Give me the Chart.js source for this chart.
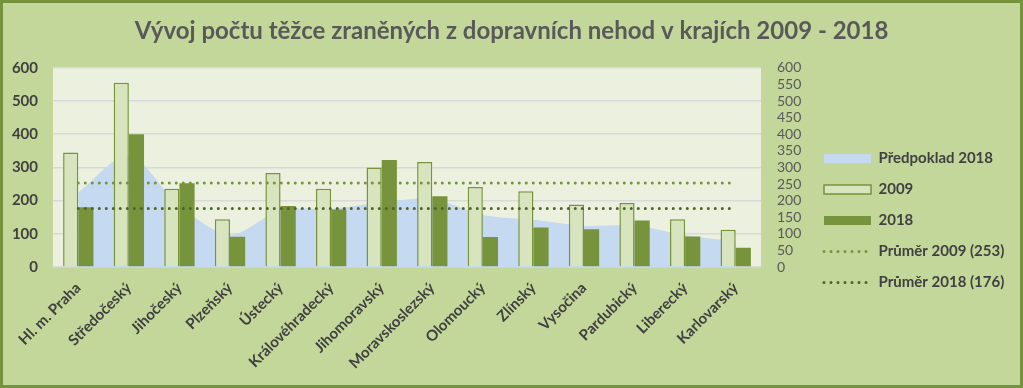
<!DOCTYPE html>
<html>
<head>
<meta charset="utf-8">
<script src="https://cdn.jsdelivr.net/npm/chart.js@4/dist/chart.umd.min.js"></script>
<style>
  html, body { margin: 0; padding: 0; background: #C4D79B; }
  #wrap { width: 1023px; height: 388px; position: relative; }
</style>
</head>
<body>
<div id="wrap"><canvas id="myChart" width="1023" height="388"></canvas></div>
<script>
// data
const kraje = ["Hl. m. Praha", "Středočeský", "Jihočeský", "Plzeňský", "Ústecký", "Královéhradecký",
  "Jihomoravský", "Moravskoslezský", "Olomoucký", "Zlínský", "Vysočina", "Pardubický", "Liberecký", "Karlovarský"];
const predpoklad2018 = [225, 335, 185, 97, 172, 175, 195, 205, 157, 142, 124, 125, 96, 78];
const hodnoty2009 = [345, 555, 236, 144, 283, 236, 300, 316, 241, 228, 188, 193, 144, 112];
const hodnoty2018 = [180, 400, 252, 91, 184, 173, 322, 213, 90, 119, 114, 140, 92, 58];
const prumer2009 = [253, 253, 253, 253, 253, 253, 253, 253, 253, 253, 253, 253, 253, 253];
const prumer2018 = [176, 176, 176, 176, 176, 176, 176, 176, 176, 176, 176, 176, 176, 176];
const leveTicky = [0, 100, 200, 300, 400, 500, 600];
const praveTicky = [0, 50, 100, 150, 200, 250, 300, 350, 400, 450, 500, 550, 600];

const FONT = "Lato, 'Open Sans', sans-serif";

// pozadi grafu + ramecek
const pozadi = {
  id: 'pozadi',
  beforeDraw(chart) {
    const { ctx, width, height, chartArea } = chart;
    ctx.save();
    ctx.fillStyle = '#C4D79B';
    ctx.fillRect(0, 0, width, height);
    ctx.fillStyle = '#EBF1DE';
    ctx.fillRect(chartArea.left, chartArea.top, chartArea.right - chartArea.left, chartArea.bottom - chartArea.top);
    ctx.strokeStyle = '#76923C';
    ctx.lineWidth = 3;
    ctx.strokeRect(1.5, 1.5, width - 3, height - 3);
    ctx.restore();
  }
};

// legenda je sirsi nez dovoli layout (max sirka / 3 svisle boxy)
const sirkaLegendy = {
  id: 'sirkaLegendy',
  beforeUpdate(chart) {
    const lg = chart.legend;
    if (lg && !lg._upraveno) {
      const puvodniFit = lg.fit.bind(lg);
      lg.fit = function () { puvodniFit(); this.width = 205; };
      lg._upraveno = true;
    }
  }
};

var ctx = document.getElementById("myChart");
var myChart = new Chart(ctx, {
  data: {
    labels: kraje,
    datasets: [{
      type: 'line',
      label: 'Předpoklad 2018',
      data: predpoklad2018,
      backgroundColor: '#C5D9F1',
      borderColor: '#C5D9F1',
      borderWidth: 0,
      fill: 'origin',
      tension: 0.3,
      pointRadius: 0,
      pointStyle: 'rect',
      order: 3,
    }, {
      type: 'bar',
      label: '2009',
      data: hodnoty2009,
      backgroundColor: '#D7E4BD',
      borderColor: '#77933C',
      borderWidth: 1.5,
      pointStyle: 'rect',
      order: 2,
    }, {
      type: 'bar',
      label: '2018',
      data: hodnoty2018,
      backgroundColor: '#77933C',
      borderColor: '#77933C',
      borderWidth: 0,
      pointStyle: 'rect',
      order: 2,
    }, {
      type: 'line',
      label: 'Průměr 2009 (253)',
      data: prumer2009,
      borderColor: '#77933C',
      borderWidth: 3,
      borderDash: [0, 7],
      borderCapStyle: 'round',
      fill: false,
      pointRadius: 0,
      pointStyle: 'line',
      order: 1,
    }, {
      type: 'line',
      label: 'Průměr 2018 (176)',
      data: prumer2018,
      borderColor: '#4F6228',
      borderWidth: 3,
      borderDash: [0, 7],
      borderCapStyle: 'round',
      fill: false,
      pointRadius: 0,
      pointStyle: 'line',
      order: 1,
    }],
  },
  options: {
    responsive: false,
    animation: false,
    layout: { padding: { left: 10, right: 10, top: 0, bottom: 0 } },
    datasets: {
      bar: { categoryPercentage: 0.6, barPercentage: 1.0 }
    },
    plugins: {
      title: {
        display: true,
        text: 'Vývoj počtu těžce zraněných z dopravních nehod v krajích 2009 - 2018',
        color: '#595959',
        font: { family: FONT, size: 24, weight: 'bold' },
        padding: { top: 17, bottom: 22 },
      },
      legend: {
        position: 'right',
        align: 'center',
        title: { display: true, text: ' ', font: { size: 10 }, padding: { top: 41, bottom: 0 } },
        labels: {
          usePointStyle: true,
          pointStyleWidth: 47,
          boxWidth: 47,
          boxHeight: 9,
          padding: 16,
          color: '#404040',
          font: { family: FONT, size: 15, weight: 'bold' },
          sort: (a, b) => a.datasetIndex - b.datasetIndex,
          generateLabels: (chart) => {
            const items = Chart.defaults.plugins.legend.labels.generateLabels(chart);
            items.forEach(it => {
              const ds = chart.data.datasets[it.datasetIndex];
              if (ds.pointStyle === 'line') {
                it.lineDash = [0, 7];
                it.lineCap = 'round';
                it.lineWidth = 3;
                it.strokeStyle = ds.borderColor;
              }
            });
            return items;
          },
        },
      },
      tooltip: { enabled: false },
    },
    scales: {
      x: {
        offset: true,
        grid: { display: false },
        border: { display: false },
        afterFit: (axis) => { axis.height = 121; axis.paddingLeft = 0; axis.paddingRight = 0; },
        ticks: {
          maxRotation: 45,
          minRotation: 45,
          autoSkip: false,
          padding: 4,
          color: '#404040',
          font: { family: FONT, size: 15, weight: 'bold' },
        },
      },
      y: {
        position: 'left',
        min: 0,
        max: 600,
        afterBuildTicks: (axis) => { axis.ticks = leveTicky.map(v => ({ value: v })); },
        afterFit: (axis) => { axis.width = 43; },
        grid: { color: '#D9D9D9', lineWidth: 1.5, drawTicks: false },
        border: { display: false },
        ticks: {
          padding: 15,
          autoSkip: false,
          color: '#404040',
          font: { family: FONT, size: 15, weight: 'bold' },
        },
      },
      y2: {
        position: 'right',
        min: 0,
        max: 600,
        afterBuildTicks: (axis) => { axis.ticks = praveTicky.map(v => ({ value: v })); },
        afterFit: (axis) => { axis.width = 47; },
        grid: { display: false, drawTicks: false },
        border: { display: false },
        ticks: {
          padding: 16,
          autoSkip: false,
          color: '#595959',
          font: { family: FONT, size: 14 },
        },
      },
    },
  },
  plugins: [pozadi, sirkaLegendy]
});
</script>
</body>
</html>
